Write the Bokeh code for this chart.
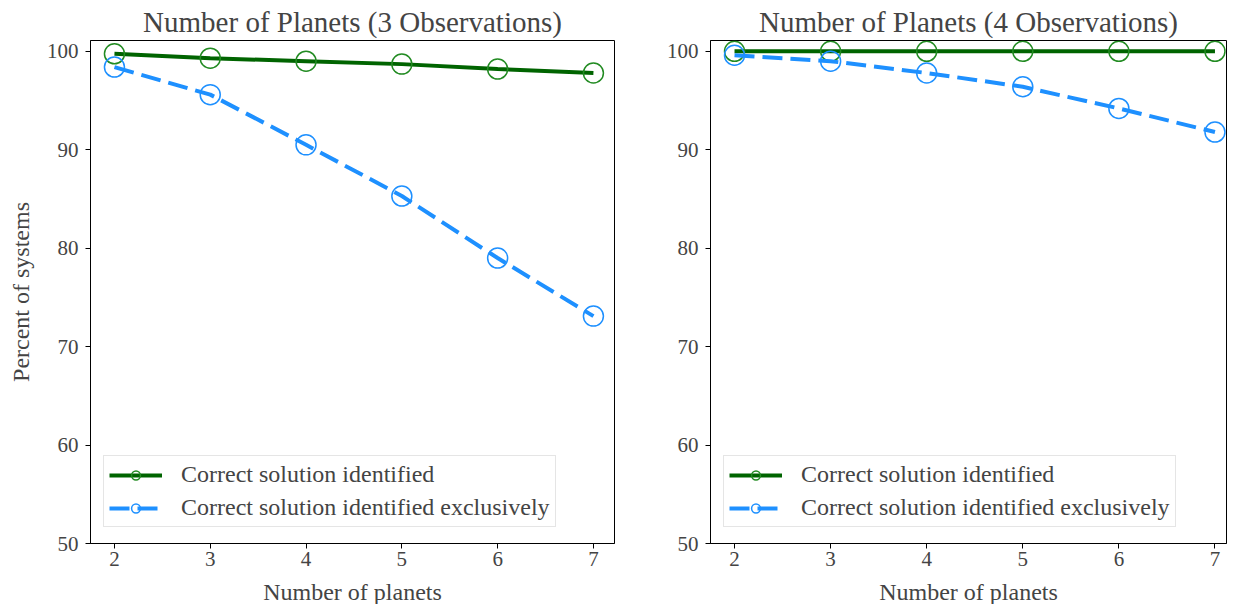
from bokeh.plotting import figure
from bokeh.layouts import row
from bokeh.models import Range1d, FixedTicker, Legend, LegendItem
from bokeh.embed import file_html
from bokeh.resources import INLINE

planets = [2, 3, 4, 5, 6, 7]
obs3_identified = [99.75, 99.3, 99.0, 98.7, 98.2, 97.8]
obs3_exclusive = [98.4, 95.6, 90.5, 85.3, 79.0, 73.1]
obs4_identified = [100.0, 100.0, 100.0, 100.0, 100.0, 100.0]
obs4_exclusive = [99.6, 99.0, 97.8, 96.4, 94.2, 91.8]
titles = ["Number of Planets (3 Observations)", "Number of Planets (4 Observations)"]
y_ticks = [50, 60, 70, 80, 90, 100]
labels = ["Correct solution identified", "Correct solution identified exclusively"]

FONT = "Liberation Serif"
GREEN_LINE = "#006400"
GREEN_MARK = "#228B22"
BLUE = "#1E90FF"


def make_panel(title, ident, excl, left, right, fw, xmax, show_ylabel):
    p = figure(frame_width=fw, frame_height=503, output_backend="svg",
               toolbar_location=None, title=title,
               x_range=Range1d(1.75, xmax), y_range=Range1d(50, 101.1),
               min_border_left=left, min_border_right=right,
               min_border_top=36, min_border_bottom=52)
    p.title.text_font = FONT
    p.title.text_font_size = "29px"
    p.title.text_font_style = "normal"
    p.title.align = "center"
    p.title.offset = 0
    p.title.standoff = 6
    p.grid.visible = False
    p.outline_line_color = "black"
    p.outline_line_width = 1
    p.outline_line_alpha = 1
    for ax in (p.xaxis[0], p.yaxis[0]):
        ax.major_label_text_font = FONT
        ax.major_label_text_font_size = "21px"
        ax.axis_label_text_font = FONT
        ax.axis_label_text_font_size = "24px"
        ax.axis_label_text_font_style = "normal"
        ax.major_tick_in = 0
        ax.major_tick_out = 5
        ax.minor_tick_in = 0
        ax.minor_tick_out = 0
        ax.axis_line_color = "black"
        ax.major_tick_line_color = "black"
    p.xaxis.major_label_standoff = 3
    p.xaxis.axis_label_standoff = 10
    p.yaxis.major_label_standoff = 7
    p.yaxis.axis_label_standoff = 10
    p.xaxis.ticker = FixedTicker(ticks=planets)
    p.yaxis.ticker = FixedTicker(ticks=y_ticks)
    p.xaxis.axis_label = "Number of planets"
    if show_ylabel:
        p.yaxis.axis_label = "Percent of systems"

    l1 = p.line(planets, ident, line_color=GREEN_LINE, line_width=4)
    m1 = p.scatter(planets, ident, marker="circle", size=20, fill_alpha=0,
                   line_color=GREEN_MARK, line_width=1.5)
    l2 = p.line(planets, excl, line_color=BLUE, line_width=4, line_dash="20 8")
    m2 = p.scatter(planets, excl, marker="circle", size=20, fill_alpha=0,
                   line_color=BLUE, line_width=1.5)

    legend = Legend(items=[LegendItem(label=labels[0], renderers=[l1, m1]),
                           LegendItem(label=labels[1], renderers=[l2, m2])],
                    location=(13, 16))
    legend.label_text_font = FONT
    legend.label_text_font_size = "24px"
    legend.border_line_color = "#cccccc"
    legend.border_line_width = 1
    legend.background_fill_alpha = 0.8
    legend.glyph_width = 53
    legend.glyph_height = 22
    legend.label_height = 22
    legend.label_standoff = 19
    legend.padding = 5
    legend.spacing = 6
    legend.margin = 0
    p.add_layout(legend)
    return p


p1 = make_panel(titles[0], obs3_identified, obs3_exclusive, 90, 13, 524, 7.22, True)
p2 = make_panel(titles[1], obs4_identified, obs4_exclusive, 83, 1, 516, 7.12, False)
p = row(p1, p2)

open("out.html", "w").write(file_html(p, INLINE))
